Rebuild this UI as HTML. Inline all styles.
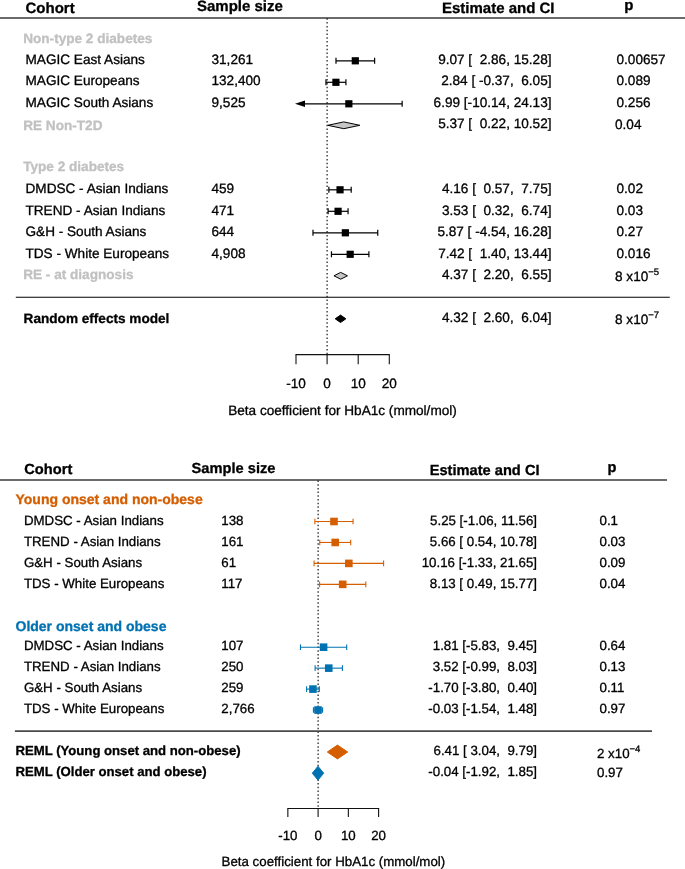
<!DOCTYPE html>
<html lang="en"><head><meta charset="utf-8"><title>Forest plots</title>
<style>
html,body{margin:0;padding:0;background:#fff;}
text{stroke-width:0.3px;stroke-linejoin:round;}
svg{display:block;will-change:transform;text-rendering:geometricPrecision;font-family:"Liberation Sans",sans-serif;}
</style></head><body>
<svg width="685" height="869" viewBox="0 0 685 869">
<rect width="685" height="869" fill="#fff"/>
<text x="25.50" y="12.50" font-size="15" font-weight="bold" fill="#000" stroke="#000" text-anchor="start">Cohort</text>
<text x="197.00" y="10.50" font-size="15" font-weight="bold" fill="#000" stroke="#000" text-anchor="start">Sample size</text>
<text x="442.00" y="12.50" font-size="15" font-weight="bold" fill="#000" stroke="#000" text-anchor="start">Estimate and CI</text>
<text x="624.30" y="9.60" font-size="15" font-weight="bold" fill="#000" stroke="#000" text-anchor="start">p</text>
<line x1="0" y1="17.9" x2="685" y2="17.9" stroke="#3a3a3a" stroke-width="1.55"/>
<line x1="327.1" y1="18.3" x2="327.1" y2="354" stroke="#000" stroke-width="1.1" stroke-dasharray="1.5,2.3"/>
<text x="23.20" y="42.50" font-size="13.6" font-weight="bold" fill="#c1c1c1" stroke="#c1c1c1" text-anchor="start">Non-type 2 diabetes</text>
<text x="25.50" y="63.80" font-size="13.6" font-weight="normal" fill="#000" stroke="#000" text-anchor="start">MAGIC East Asians</text>
<text x="211.50" y="63.80" font-size="13.6" font-weight="normal" fill="#000" stroke="#000" text-anchor="start">31,261</text>
<line x1="335.99" y1="60.80" x2="374.62" y2="60.80" stroke="#000" stroke-width="1.2"/>
<line x1="335.99" y1="57.80" x2="335.99" y2="63.80" stroke="#000" stroke-width="1.2"/>
<line x1="374.62" y1="57.80" x2="374.62" y2="63.80" stroke="#000" stroke-width="1.2"/>
<rect x="351.71" y="57.20" width="7.2" height="7.2" fill="#000"/>
<text x="551.50" y="63.80" font-size="13.6" font-weight="normal" fill="#000" stroke="#000" text-anchor="end" style="white-space:pre">9.07 [  2.86, 15.28]</text>
<text x="616.50" y="63.80" font-size="13.6" font-weight="normal" fill="#000" stroke="#000" text-anchor="start">0.00657</text>
<text x="25.50" y="85.33" font-size="13.6" font-weight="normal" fill="#000" stroke="#000" text-anchor="start">MAGIC Europeans</text>
<text x="211.50" y="85.33" font-size="13.6" font-weight="normal" fill="#000" stroke="#000" text-anchor="start">132,400</text>
<line x1="325.95" y1="82.30" x2="345.92" y2="82.30" stroke="#000" stroke-width="1.2"/>
<line x1="325.95" y1="79.30" x2="325.95" y2="85.30" stroke="#000" stroke-width="1.2"/>
<line x1="345.92" y1="79.30" x2="345.92" y2="85.30" stroke="#000" stroke-width="1.2"/>
<rect x="332.33" y="78.70" width="7.2" height="7.2" fill="#000"/>
<text x="551.50" y="85.33" font-size="13.6" font-weight="normal" fill="#000" stroke="#000" text-anchor="end" style="white-space:pre">2.84 [ -0.37,  6.05]</text>
<text x="616.50" y="85.33" font-size="13.6" font-weight="normal" fill="#000" stroke="#000" text-anchor="start">0.089</text>
<text x="25.50" y="106.86" font-size="13.6" font-weight="normal" fill="#000" stroke="#000" text-anchor="start">MAGIC South Asians</text>
<text x="211.50" y="106.86" font-size="13.6" font-weight="normal" fill="#000" stroke="#000" text-anchor="start">9,525</text>
<line x1="299.00" y1="103.80" x2="402.14" y2="103.80" stroke="#000" stroke-width="1.2"/>
<polygon points="295.00,103.80 305.00,100.50 305.00,107.10" fill="#000"/>
<line x1="402.14" y1="100.80" x2="402.14" y2="106.80" stroke="#000" stroke-width="1.2"/>
<rect x="345.24" y="100.20" width="7.2" height="7.2" fill="#000"/>
<text x="551.50" y="106.86" font-size="13.6" font-weight="normal" fill="#000" stroke="#000" text-anchor="end" style="white-space:pre">6.99 [-10.14, 24.13]</text>
<text x="616.50" y="106.86" font-size="13.6" font-weight="normal" fill="#000" stroke="#000" text-anchor="start">0.256</text>
<text x="23.20" y="130.20" font-size="13.6" font-weight="bold" fill="#c1c1c1" stroke="#c1c1c1" text-anchor="start">RE Non-T2D</text>
<polygon points="327.78,125.30 343.80,121.90 359.82,125.30 343.80,128.70" fill="#c6c6c6" stroke="#000" stroke-width="1"/>
<text x="551.50" y="128.39" font-size="13.6" font-weight="normal" fill="#000" stroke="#000" text-anchor="end" style="white-space:pre">5.37 [  0.22, 10.52]</text>
<text x="615.00" y="128.89" font-size="13.6" font-weight="normal" fill="#000" stroke="#000" text-anchor="start">0.04</text>
<text x="23.20" y="171.20" font-size="13.6" font-weight="bold" fill="#c1c1c1" stroke="#c1c1c1" text-anchor="start">Type 2 diabetes</text>
<text x="25.50" y="192.98" font-size="13.6" font-weight="normal" fill="#000" stroke="#000" text-anchor="start">DMDSC - Asian Indians</text>
<text x="211.50" y="192.98" font-size="13.6" font-weight="normal" fill="#000" stroke="#000" text-anchor="start">459</text>
<line x1="328.87" y1="189.80" x2="351.20" y2="189.80" stroke="#000" stroke-width="1.2"/>
<line x1="328.87" y1="186.80" x2="328.87" y2="192.80" stroke="#000" stroke-width="1.2"/>
<line x1="351.20" y1="186.80" x2="351.20" y2="192.80" stroke="#000" stroke-width="1.2"/>
<rect x="336.44" y="186.20" width="7.2" height="7.2" fill="#000"/>
<text x="551.50" y="192.98" font-size="13.6" font-weight="normal" fill="#000" stroke="#000" text-anchor="end" style="white-space:pre">4.16 [  0.57,  7.75]</text>
<text x="616.50" y="192.98" font-size="13.6" font-weight="normal" fill="#000" stroke="#000" text-anchor="start">0.02</text>
<text x="25.50" y="214.51" font-size="13.6" font-weight="normal" fill="#000" stroke="#000" text-anchor="start">TREND - Asian Indians</text>
<text x="211.50" y="214.51" font-size="13.6" font-weight="normal" fill="#000" stroke="#000" text-anchor="start">471</text>
<line x1="328.10" y1="211.30" x2="348.06" y2="211.30" stroke="#000" stroke-width="1.2"/>
<line x1="328.10" y1="208.30" x2="328.10" y2="214.30" stroke="#000" stroke-width="1.2"/>
<line x1="348.06" y1="208.30" x2="348.06" y2="214.30" stroke="#000" stroke-width="1.2"/>
<rect x="334.48" y="207.70" width="7.2" height="7.2" fill="#000"/>
<text x="551.50" y="214.51" font-size="13.6" font-weight="normal" fill="#000" stroke="#000" text-anchor="end" style="white-space:pre">3.53 [  0.32,  6.74]</text>
<text x="616.50" y="214.51" font-size="13.6" font-weight="normal" fill="#000" stroke="#000" text-anchor="start">0.03</text>
<text x="25.50" y="236.04" font-size="13.6" font-weight="normal" fill="#000" stroke="#000" text-anchor="start">G&amp;H - South Asians</text>
<text x="211.50" y="236.04" font-size="13.6" font-weight="normal" fill="#000" stroke="#000" text-anchor="start">644</text>
<line x1="312.98" y1="232.80" x2="377.73" y2="232.80" stroke="#000" stroke-width="1.2"/>
<line x1="312.98" y1="229.80" x2="312.98" y2="235.80" stroke="#000" stroke-width="1.2"/>
<line x1="377.73" y1="229.80" x2="377.73" y2="235.80" stroke="#000" stroke-width="1.2"/>
<rect x="341.76" y="229.20" width="7.2" height="7.2" fill="#000"/>
<text x="551.50" y="236.04" font-size="13.6" font-weight="normal" fill="#000" stroke="#000" text-anchor="end" style="white-space:pre">5.87 [ -4.54, 16.28]</text>
<text x="616.50" y="236.04" font-size="13.6" font-weight="normal" fill="#000" stroke="#000" text-anchor="start">0.27</text>
<text x="25.50" y="257.57" font-size="13.6" font-weight="normal" fill="#000" stroke="#000" text-anchor="start">TDS - White Europeans</text>
<text x="211.50" y="257.57" font-size="13.6" font-weight="normal" fill="#000" stroke="#000" text-anchor="start">4,908</text>
<line x1="331.45" y1="254.30" x2="368.90" y2="254.30" stroke="#000" stroke-width="1.2"/>
<line x1="331.45" y1="251.30" x2="331.45" y2="257.30" stroke="#000" stroke-width="1.2"/>
<line x1="368.90" y1="251.30" x2="368.90" y2="257.30" stroke="#000" stroke-width="1.2"/>
<rect x="346.58" y="250.70" width="7.2" height="7.2" fill="#000"/>
<text x="551.50" y="257.57" font-size="13.6" font-weight="normal" fill="#000" stroke="#000" text-anchor="end" style="white-space:pre">7.42 [  1.40, 13.44]</text>
<text x="616.50" y="257.57" font-size="13.6" font-weight="normal" fill="#000" stroke="#000" text-anchor="start">0.016</text>
<text x="23.20" y="279.20" font-size="13.6" font-weight="bold" fill="#c1c1c1" stroke="#c1c1c1" text-anchor="start">RE - at diagnosis</text>
<polygon points="333.94,275.80 340.69,272.40 347.47,275.80 340.69,279.20" fill="#c6c6c6" stroke="#000" stroke-width="1"/>
<text x="551.50" y="279.10" font-size="13.6" font-weight="normal" fill="#000" stroke="#000" text-anchor="end" style="white-space:pre">4.37 [  2.20,  6.55]</text>
<text x="615.0" y="281.3" font-size="13.6" fill="#000" stroke="#000">8 x10<tspan dy="-6.4" font-size="9.5">−5</tspan></text>
<line x1="15.8" y1="297.15" x2="669.8" y2="297.15" stroke="#000" stroke-width="1.05"/>
<text x="23.60" y="323.20" font-size="13.6" font-weight="bold" fill="#000" stroke="#000" text-anchor="start">Random effects model</text>
<polygon points="335.19,318.80 340.54,315.10 345.88,318.80 340.54,322.50" fill="#000" stroke="#000" stroke-width="1"/>
<text x="551.50" y="321.86" font-size="13.6" font-weight="normal" fill="#000" stroke="#000" text-anchor="end" style="white-space:pre">4.32 [  2.60,  6.04]</text>
<text x="615.0" y="324.2" font-size="13.6" fill="#000" stroke="#000">8 x10<tspan dy="-6.4" font-size="9.5">−7</tspan></text>
<line x1="295.50" y1="354.66" x2="389.80" y2="354.66" stroke="#111" stroke-width="1.1"/>
<line x1="296.00" y1="354.66" x2="296.00" y2="364.16" stroke="#111" stroke-width="1.1"/>
<text x="296.00" y="387.55" font-size="13.6" font-weight="normal" fill="#000" stroke="#000" text-anchor="middle">-10</text>
<line x1="327.10" y1="354.66" x2="327.10" y2="364.16" stroke="#111" stroke-width="1.1"/>
<text x="327.10" y="387.55" font-size="13.6" font-weight="normal" fill="#000" stroke="#000" text-anchor="middle">0</text>
<line x1="358.20" y1="354.66" x2="358.20" y2="364.16" stroke="#111" stroke-width="1.1"/>
<text x="358.20" y="387.55" font-size="13.6" font-weight="normal" fill="#000" stroke="#000" text-anchor="middle">10</text>
<line x1="389.30" y1="354.66" x2="389.30" y2="364.16" stroke="#111" stroke-width="1.1"/>
<text x="389.30" y="387.55" font-size="13.6" font-weight="normal" fill="#000" stroke="#000" text-anchor="middle">20</text>
<text x="342.50" y="415.30" font-size="13.6" font-weight="normal" fill="#000" stroke="#000" text-anchor="middle">Beta coefficient for HbA1c (mmol/mol)</text>
<text x="24.30" y="474.30" font-size="14.65" font-weight="bold" fill="#000" stroke="#000" text-anchor="start">Cohort</text>
<text x="191.60" y="472.80" font-size="14.65" font-weight="bold" fill="#000" stroke="#000" text-anchor="start">Sample size</text>
<text x="429.70" y="475.00" font-size="14.65" font-weight="bold" fill="#000" stroke="#000" text-anchor="start">Estimate and CI</text>
<text x="607.50" y="471.60" font-size="14.65" font-weight="bold" fill="#000" stroke="#000" text-anchor="start">p</text>
<line x1="0" y1="479.95" x2="667" y2="479.95" stroke="#3a3a3a" stroke-width="1.55"/>
<line x1="318.1" y1="480.5" x2="318.1" y2="808" stroke="#000" stroke-width="1.1" stroke-dasharray="1.5,2.19"/>
<text x="15.50" y="504.00" font-size="14.0" font-weight="bold" fill="#d55e00" stroke="#d55e00" text-anchor="start">Young onset and non-obese</text>
<text x="23.90" y="525.00" font-size="13.3" font-weight="normal" fill="#000" stroke="#000" text-anchor="start">DMDSC - Asian Indians</text>
<text x="221.30" y="525.00" font-size="13.3" font-weight="normal" fill="#000" stroke="#000" text-anchor="start">138</text>
<line x1="314.89" y1="521.50" x2="353.07" y2="521.50" stroke="#d55e00" stroke-width="1.1"/>
<line x1="314.89" y1="518.70" x2="314.89" y2="524.30" stroke="#d55e00" stroke-width="1.1"/>
<line x1="353.07" y1="518.70" x2="353.07" y2="524.30" stroke="#d55e00" stroke-width="1.1"/>
<rect x="330.18" y="517.70" width="7.6" height="7.6" fill="#d55e00"/>
<text x="537.00" y="525.00" font-size="13.3" font-weight="normal" fill="#000" stroke="#000" text-anchor="end" style="white-space:pre">5.25 [-1.06, 11.56]</text>
<text x="599.50" y="525.00" font-size="13.3" font-weight="normal" fill="#000" stroke="#000" text-anchor="start">0.1</text>
<text x="23.90" y="545.91" font-size="13.3" font-weight="normal" fill="#000" stroke="#000" text-anchor="start">TREND - Asian Indians</text>
<text x="221.30" y="545.91" font-size="13.3" font-weight="normal" fill="#000" stroke="#000" text-anchor="start">161</text>
<line x1="319.73" y1="542.45" x2="350.71" y2="542.45" stroke="#d55e00" stroke-width="1.1"/>
<line x1="319.73" y1="539.65" x2="319.73" y2="545.25" stroke="#d55e00" stroke-width="1.1"/>
<line x1="350.71" y1="539.65" x2="350.71" y2="545.25" stroke="#d55e00" stroke-width="1.1"/>
<rect x="331.42" y="538.65" width="7.6" height="7.6" fill="#d55e00"/>
<text x="537.00" y="545.91" font-size="13.3" font-weight="normal" fill="#000" stroke="#000" text-anchor="end" style="white-space:pre">5.66 [ 0.54, 10.78]</text>
<text x="599.50" y="545.91" font-size="13.3" font-weight="normal" fill="#000" stroke="#000" text-anchor="start">0.03</text>
<text x="23.90" y="566.82" font-size="13.3" font-weight="normal" fill="#000" stroke="#000" text-anchor="start">G&amp;H - South Asians</text>
<text x="221.30" y="566.82" font-size="13.3" font-weight="normal" fill="#000" stroke="#000" text-anchor="start">61</text>
<line x1="314.08" y1="563.40" x2="383.59" y2="563.40" stroke="#d55e00" stroke-width="1.1"/>
<line x1="314.08" y1="560.60" x2="314.08" y2="566.20" stroke="#d55e00" stroke-width="1.1"/>
<line x1="383.59" y1="560.60" x2="383.59" y2="566.20" stroke="#d55e00" stroke-width="1.1"/>
<rect x="345.03" y="559.60" width="7.6" height="7.6" fill="#d55e00"/>
<text x="537.00" y="566.82" font-size="13.3" font-weight="normal" fill="#000" stroke="#000" text-anchor="end" style="white-space:pre">10.16 [-1.33, 21.65]</text>
<text x="599.50" y="566.82" font-size="13.3" font-weight="normal" fill="#000" stroke="#000" text-anchor="start">0.09</text>
<text x="23.90" y="587.73" font-size="13.3" font-weight="normal" fill="#000" stroke="#000" text-anchor="start">TDS - White Europeans</text>
<text x="221.30" y="587.73" font-size="13.3" font-weight="normal" fill="#000" stroke="#000" text-anchor="start">117</text>
<line x1="319.58" y1="584.35" x2="365.80" y2="584.35" stroke="#d55e00" stroke-width="1.1"/>
<line x1="319.58" y1="581.55" x2="319.58" y2="587.15" stroke="#d55e00" stroke-width="1.1"/>
<line x1="365.80" y1="581.55" x2="365.80" y2="587.15" stroke="#d55e00" stroke-width="1.1"/>
<rect x="338.89" y="580.55" width="7.6" height="7.6" fill="#d55e00"/>
<text x="537.00" y="587.73" font-size="13.3" font-weight="normal" fill="#000" stroke="#000" text-anchor="end" style="white-space:pre">8.13 [ 0.49, 15.77]</text>
<text x="599.50" y="587.73" font-size="13.3" font-weight="normal" fill="#000" stroke="#000" text-anchor="start">0.04</text>
<text x="15.50" y="630.90" font-size="14.0" font-weight="bold" fill="#0072b2" stroke="#0072b2" text-anchor="start">Older onset and obese</text>
<text x="23.90" y="650.46" font-size="13.3" font-weight="normal" fill="#000" stroke="#000" text-anchor="start">DMDSC - Asian Indians</text>
<text x="221.30" y="650.46" font-size="13.3" font-weight="normal" fill="#000" stroke="#000" text-anchor="start">107</text>
<line x1="300.46" y1="647.20" x2="346.69" y2="647.20" stroke="#0072b2" stroke-width="1.1"/>
<line x1="300.46" y1="644.40" x2="300.46" y2="650.00" stroke="#0072b2" stroke-width="1.1"/>
<line x1="346.69" y1="644.40" x2="346.69" y2="650.00" stroke="#0072b2" stroke-width="1.1"/>
<rect x="319.78" y="643.40" width="7.6" height="7.6" fill="#0072b2"/>
<text x="537.00" y="650.46" font-size="13.3" font-weight="normal" fill="#000" stroke="#000" text-anchor="end" style="white-space:pre">1.81 [-5.83,  9.45]</text>
<text x="599.50" y="650.46" font-size="13.3" font-weight="normal" fill="#000" stroke="#000" text-anchor="start">0.64</text>
<text x="23.90" y="671.37" font-size="13.3" font-weight="normal" fill="#000" stroke="#000" text-anchor="start">TREND - Asian Indians</text>
<text x="221.30" y="671.37" font-size="13.3" font-weight="normal" fill="#000" stroke="#000" text-anchor="start">250</text>
<line x1="315.11" y1="668.15" x2="342.39" y2="668.15" stroke="#0072b2" stroke-width="1.1"/>
<line x1="315.11" y1="665.35" x2="315.11" y2="670.95" stroke="#0072b2" stroke-width="1.1"/>
<line x1="342.39" y1="665.35" x2="342.39" y2="670.95" stroke="#0072b2" stroke-width="1.1"/>
<rect x="324.95" y="664.35" width="7.6" height="7.6" fill="#0072b2"/>
<text x="537.00" y="671.37" font-size="13.3" font-weight="normal" fill="#000" stroke="#000" text-anchor="end" style="white-space:pre">3.52 [-0.99,  8.03]</text>
<text x="599.50" y="671.37" font-size="13.3" font-weight="normal" fill="#000" stroke="#000" text-anchor="start">0.13</text>
<text x="23.90" y="692.28" font-size="13.3" font-weight="normal" fill="#000" stroke="#000" text-anchor="start">G&amp;H - South Asians</text>
<text x="221.30" y="692.28" font-size="13.3" font-weight="normal" fill="#000" stroke="#000" text-anchor="start">259</text>
<line x1="306.61" y1="689.10" x2="319.31" y2="689.10" stroke="#0072b2" stroke-width="1.1"/>
<line x1="306.61" y1="686.30" x2="306.61" y2="691.90" stroke="#0072b2" stroke-width="1.1"/>
<line x1="319.31" y1="686.30" x2="319.31" y2="691.90" stroke="#0072b2" stroke-width="1.1"/>
<rect x="309.16" y="685.30" width="7.6" height="7.6" fill="#0072b2"/>
<text x="537.00" y="692.28" font-size="13.3" font-weight="normal" fill="#000" stroke="#000" text-anchor="end" style="white-space:pre">-1.70 [-3.80,  0.40]</text>
<text x="599.50" y="692.28" font-size="13.3" font-weight="normal" fill="#000" stroke="#000" text-anchor="start">0.11</text>
<text x="23.90" y="713.19" font-size="13.3" font-weight="normal" fill="#000" stroke="#000" text-anchor="start">TDS - White Europeans</text>
<text x="221.30" y="713.19" font-size="13.3" font-weight="normal" fill="#000" stroke="#000" text-anchor="start">2,766</text>
<line x1="313.44" y1="710.05" x2="322.58" y2="710.05" stroke="#0072b2" stroke-width="1.1"/>
<line x1="313.44" y1="707.25" x2="313.44" y2="712.85" stroke="#0072b2" stroke-width="1.1"/>
<line x1="322.58" y1="707.25" x2="322.58" y2="712.85" stroke="#0072b2" stroke-width="1.1"/>
<rect x="314.21" y="706.25" width="7.6" height="7.6" fill="#0072b2"/>
<text x="537.00" y="713.19" font-size="13.3" font-weight="normal" fill="#000" stroke="#000" text-anchor="end" style="white-space:pre">-0.03 [-1.54,  1.48]</text>
<text x="599.50" y="713.19" font-size="13.3" font-weight="normal" fill="#000" stroke="#000" text-anchor="start">0.97</text>
<line x1="14.9" y1="731.1" x2="652" y2="731.1" stroke="#4a4a4a" stroke-width="1.6"/>
<text x="15.50" y="754.90" font-size="13.15" font-weight="bold" fill="#000" stroke="#000" text-anchor="start">REML (Young onset and non-obese)</text>
<polygon points="327.30,752.00 337.49,745.10 347.71,752.00 337.49,758.90" fill="#d55e00" stroke="#d55e00" stroke-width="1"/>
<text x="537.00" y="755.30" font-size="13.3" font-weight="normal" fill="#000" stroke="#000" text-anchor="end" style="white-space:pre">6.41 [ 3.04,  9.79]</text>
<text x="597.0" y="758.3" font-size="13.3" fill="#000" stroke="#000">2 x10<tspan dy="-6.4" font-size="9.5">−4</tspan></text>
<text x="15.50" y="775.80" font-size="13.15" font-weight="bold" fill="#000" stroke="#000" text-anchor="start">REML (Older onset and obese)</text>
<polygon points="312.29,773.20 317.98,766.30 323.70,773.20 317.98,780.10" fill="#0072b2" stroke="#0072b2" stroke-width="1"/>
<text x="537.00" y="775.90" font-size="13.3" font-weight="normal" fill="#000" stroke="#000" text-anchor="end" style="white-space:pre">-0.04 [-1.92,  1.85]</text>
<text x="597.00" y="777.20" font-size="13.3" font-weight="normal" fill="#000" stroke="#000" text-anchor="start">0.97</text>
<line x1="287.35" y1="808.5" x2="379.10" y2="808.5" stroke="#111" stroke-width="1.1"/>
<line x1="287.85" y1="808.5" x2="287.85" y2="816.9" stroke="#111" stroke-width="1.1"/>
<text x="287.85" y="839.80" font-size="13.3" font-weight="normal" fill="#000" stroke="#000" text-anchor="middle">-10</text>
<line x1="318.10" y1="808.5" x2="318.10" y2="816.9" stroke="#111" stroke-width="1.1"/>
<text x="318.10" y="839.80" font-size="13.3" font-weight="normal" fill="#000" stroke="#000" text-anchor="middle">0</text>
<line x1="348.35" y1="808.5" x2="348.35" y2="816.9" stroke="#111" stroke-width="1.1"/>
<text x="348.35" y="839.80" font-size="13.3" font-weight="normal" fill="#000" stroke="#000" text-anchor="middle">10</text>
<line x1="378.60" y1="808.5" x2="378.60" y2="816.9" stroke="#111" stroke-width="1.1"/>
<text x="378.60" y="839.80" font-size="13.3" font-weight="normal" fill="#000" stroke="#000" text-anchor="middle">20</text>
<text x="333.40" y="866.00" font-size="13.3" font-weight="normal" fill="#000" stroke="#000" text-anchor="middle">Beta coefficient for HbA1c (mmol/mol)</text>
</svg>
</body></html>
